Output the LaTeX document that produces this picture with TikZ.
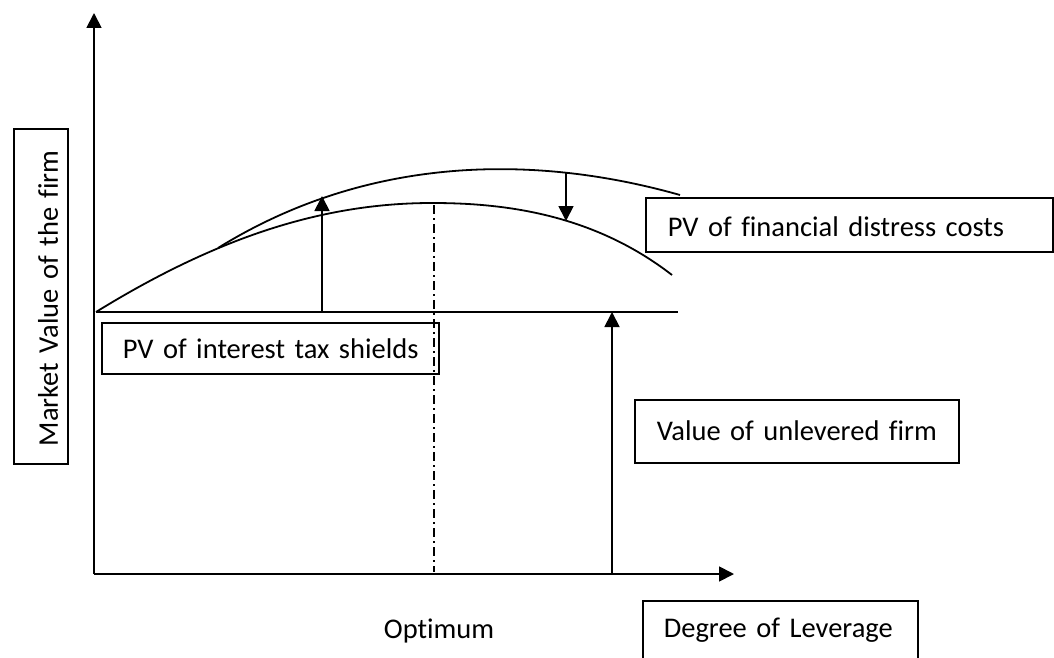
\documentclass[tikz,border=0pt]{standalone}
\usepackage{fontspec}
\setmainfont{Carlito}[Ligatures=CommonOff,WordSpace=0.9]
\usetikzlibrary{arrows.meta}
\begin{document}
\begin{tikzpicture}[x=1pt,y=-1pt,
  line width=1.8pt,
  tip/.style={-{Triangle[length=15pt,width=15pt]}},
  curve/.style={line width=1.8pt},
  textbox/.style={draw,line width=1.6pt,anchor=north west,inner ysep=0pt,align=left,
    font=\fontsize{28.5}{34}\selectfont},
  plain/.style={font=\fontsize{28.5}{34}\selectfont,inner sep=0pt,anchor=base west},
  optline/.style={line width=1.3pt,dash pattern=on 9pt off 4pt on 2pt off 4pt}]
\useasboundingbox (0,0) rectangle (1054,658);
\clip (0,0) rectangle (1054,658);

% axes
\coordinate (origin) at (94,574);
\coordinate (ytip) at (94,13);
\coordinate (xtip) at (734,574);
\draw[tip] (origin) -- (ytip);
\draw[tip] (origin) -- (xtip);

% value of the unlevered firm (flat line)
\coordinate (vu0) at (96,312);
\coordinate (vu1) at (678,312);
\draw (vu0) -- (vu1);

% value with tax shields only
\coordinate (up0) at (218,248);
\coordinate (up1) at (680,195);
\draw[curve] (up0) .. controls (368,155) and (535,154) .. (up1);
% value with tax shields and distress costs
\coordinate (lo1) at (432,203);
\coordinate (lo2) at (672,275);
\draw[curve] (vu0) .. controls (216,238) and (322,203) .. (lo1)
                   .. controls (502,203) and (592,213) .. (lo2);

% optimum leverage
\coordinate (opttop) at (434,205);
\coordinate (optbot) at (434,572);
\draw[optline] (opttop) -- (optbot);

% arrows between the lines
\coordinate (tsfrom) at (322,312);
\coordinate (tsto) at (322,196);
\draw[tip] (tsfrom) -- (tsto);
\coordinate (fdfrom) at (566,173);
\coordinate (fdto) at (566,221);
\draw[tip] (fdfrom) -- (fdto);
\coordinate (vufrom) at (612,574);
\coordinate (vuto) at (612,312);
\draw[tip] (vufrom) -- (vuto);

% labels
\node[textbox,inner xsep=22pt,text width=363pt,text height=39pt,text depth=15pt]
  (distress) at (645,197) {\mbox{PV of financial distress costs}};
\node[textbox,inner xsep=21pt,text width=295pt,text height=36pt,text depth=15pt]
  (shields) at (101,322) {\mbox{PV of interest tax shields}};
\node[textbox,inner xsep=22pt,text width=280pt,text height=41pt,text depth=22pt]
  (unlev) at (634,399) {\mbox{Value of unlevered firm}};
\node[textbox,inner xsep=21pt,text width=233pt,text height=37pt,text depth=38pt]
  (degree) at (642,600) {\mbox{Degree of Leverage}};
\node[plain] (optimum) at (383,638) {Optimum};
\node[textbox,rotate=90,inner xsep=18pt,text width=299pt,text height=44pt,text depth=10pt]
  (market) at (13,465) {\mbox{Market Value of the firm}};
\end{tikzpicture}
\end{document}
